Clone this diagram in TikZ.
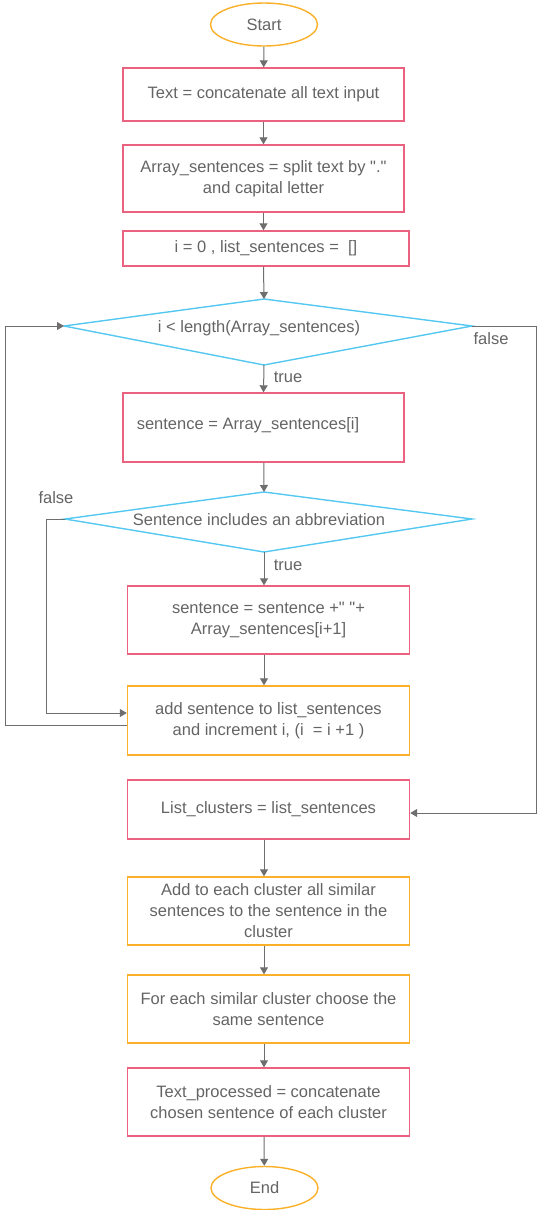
\documentclass[tikz,border=0pt]{standalone}
\usepackage{fontspec}
\setmainfont{Liberation Sans}
\usetikzlibrary{arrows.meta,shapes.geometric}
\definecolor{pinkc}{RGB}{234,98,128}
\definecolor{orangec}{RGB}{250,176,40}
\definecolor{cyanc}{RGB}{84,200,240}
\definecolor{linec}{RGB}{110,110,110}
\definecolor{txtc}{RGB}{100,100,100}
\tikzset{
  base/.style={font=\fontsize{16.5}{21}\selectfont, text=txtc, align=center, inner sep=0pt},
  pbox/.style={base, draw=pinkc, line width=1.4pt, rectangle, minimum height=#1},
  obox/.style={base, draw=orangec, line width=1.4pt, rectangle, minimum height=#1},
  term/.style={base, draw=orangec, line width=1.4pt, ellipse, minimum width=107pt, minimum height=43pt},
  dia/.style={draw=cyanc, line width=1.4pt, line join=miter},
  txt/.style={base},
  conn/.style={draw=linec, line width=1pt, -{Triangle[length=7pt,width=8pt]}},
  lab/.style={base}
}
\begin{document}
\begin{tikzpicture}[x=1pt,y=-1pt]
\useasboundingbox (0,0) rectangle (539,1210);
% terminals
\node[term] (start) at (264,24.5) {Start};
\node[term] (end) at (264.5,1188) {End};
% boxes
\node[pbox=53pt, minimum width=281pt] (b1) at (263.5,94.5) {Text = concatenate all text input};
\node[pbox=67pt, minimum width=281pt] (b2) at (263.5,178.5) {Array\_sentences = split text by \textquotedbl.\textquotedbl\\and capital letter};
\node[pbox=35pt, minimum width=286pt] (b3) at (266,248.5) {i = 0 , list\_sentences = \ []};
\node[pbox=69pt, minimum width=281pt] (b4) at (263.5,427.5) {};
\node[txt] (b4t) at (248,425) {sentence = Array\_sentences[i]};
\node[pbox=68pt, minimum width=282pt] (b5) at (268.5,620) {sentence = sentence +\textquotedbl\ \textquotedbl+\\Array\_sentences[i+1]};
\node[obox=69pt, minimum width=282pt] (b6) at (268.5,720.5) {add sentence to list\_sentences\\and increment i, (i\ \ = i +1 )};
\node[pbox=59pt, minimum width=282pt] (b7) at (268.5,809.5) {List\_clusters = list\_sentences};
\node[obox=68pt, minimum width=282pt] (b8) at (268.5,911) {Add to each cluster all similar\\sentences to the sentence in the\\cluster};
\node[obox=68pt, minimum width=282pt] (b9) at (268.5,1009) {For each similar cluster choose the\\same sentence};
\node[pbox=68pt, minimum width=282pt] (b10) at (268.5,1102) {Text\_processed = concatenate\\chosen sentence of each cluster};
% diamonds
\coordinate (d1t) at (264,299);
\coordinate (d1r) at (472,326);
\coordinate (d1b) at (264,365);
\coordinate (d1l) at (64,326);
\path[dia] (d1t) -- (d1r) -- (d1b) -- (d1l) -- cycle;
\node[txt] (d1) at (259,328) {i < length(Array\_sentences)};
\coordinate (d2t) at (264,492);
\coordinate (d2r) at (472,519);
\coordinate (d2b) at (264,552);
\coordinate (d2l) at (65,519);
\path[dia] (d2t) -- (d2r) -- (d2b) -- (d2l) -- cycle;
\node[txt] (d2) at (259,520) {Sentence includes an abbreviation};
% connectors
\draw[conn] (start) -- (b1);
\draw[conn] (b1) -- (b2);
\draw[conn] (b2.south) -- (b3.north -| b2.south);
\draw[conn] (b3.south -| b2.south) -- (d1t);
\draw[conn] (d1b) -- (b4.north);
\draw[conn] (b4) -- (d2t);
\draw[conn] (d2b) -- (d2b |- b5.north);
\draw[conn] (d2b |- b5.south) -- (d2b |- b6.north);
\draw[conn] (d2b |- b7.south) -- (d2b |- b8.north);
\draw[conn] (d2b |- b8.south) -- (d2b |- b9.north);
\draw[conn] (d2b |- b9.south) -- (d2b |- b10.north);
\draw[conn] (d2b |- b10.south) -- (end);
% loops
\coordinate (l1a) at (b6.west |- 0,725);
\coordinate (l1b) at (5,725);
\coordinate (l1c) at (5,326);
\draw[conn] (l1a) -- (l1b) -- (l1c) -- (d1l);
\coordinate (l2a) at (46,519);
\coordinate (l2b) at (46,713);
\coordinate (l2c) at (b6.west |- 0,713);
\draw[conn] (d2l) -- (l2a) -- (l2b) -- (l2c);
\coordinate (l3a) at (536,326);
\coordinate (l3b) at (536,813);
\coordinate (l3c) at (b7.east |- 0,813);
\draw[conn] (d1r) -- (l3a) -- (l3b) -- (l3c);
% labels
\node[lab] (f1) at (491,339) {false};
\node[lab] (t1) at (288,377) {true};
\node[lab] (f2) at (56,498) {false};
\node[lab] (t2) at (288,565) {true};
\end{tikzpicture}
\end{document}
